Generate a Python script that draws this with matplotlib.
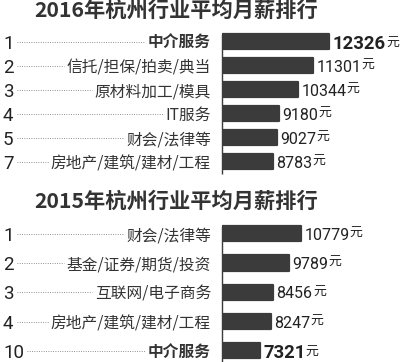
import matplotlib.pyplot as plt
from matplotlib.transforms import blended_transform_factory

plt.rcParams["font.family"] = ["Noto Sans CJK SC", "DejaVu Sans"]

DARK = "#3b3b3b"
TEXT = "#333333"
NUMFONT = ["Roboto", "Noto Sans CJK SC"]

# 2016 ranking
ranks_2016 = ["1", "2", "3", "4", "5", "7"]
labels_2016 = ["中介服务", "信托/担保/拍卖/典当", "原材料加工/模具", "IT服务", "财会/法律等", "房地产/建筑/建材/工程"]
salary_2016 = [12326, 11301, 10344, 9180, 9027, 8783]

# 2015 ranking
ranks_2015 = ["1", "2", "3", "4", "10"]
labels_2015 = ["财会/法律等", "基金/证券/期货/投资", "互联网/电子商务", "房地产/建筑/建材/工程", "中介服务"]
salary_2015 = [10779, 9789, 8456, 8247, 7321]

HIGHLIGHT = "中介服务"

W, H = 400, 362
fig = plt.figure(figsize=(W / 100, H / 100), dpi=100)
fig.patch.set_facecolor("white")


def px(x):
    return x / W


def py(y):
    return 1 - y / H


def section(title, title_base, ranks, labels, values, ax_top, ax_bottom, row_h, bar_h, xlim):
    fig.text(px(176), py(title_base), title, ha="center", va="baseline", fontsize=15.3,
             fontweight="bold", color=TEXT)
    ax = fig.add_axes([px(222), py(ax_bottom), px(W - 222), (ax_bottom - ax_top) / H])
    n_rows = (ax_bottom - ax_top) / row_h
    ax.set_ylim(n_rows - 0.5, -0.5)
    ax.set_xlim(*xlim)
    ax.axis("off")
    ys = list(range(len(values)))
    ax.barh(ys, values, height=bar_h, color=DARK, edgecolor=DARK, linewidth=1.6,
            joinstyle="round")
    ax.vlines(xlim[0], -0.5 + (1 - bar_h) / 2, n_rows - 0.5, color=DARK, lw=1.0, clip_on=False)

    tr = blended_transform_factory(fig.transFigure, ax.transData)
    fig.canvas.draw()
    renderer = fig.canvas.get_renderer()
    inv = fig.transFigure.inverted()
    for y, rank, lab, val in zip(ys, ranks, labels, values):
        bold = lab == HIGHLIGHT
        r = ax.text(px(3), y, rank, transform=tr, ha="left", va="center_baseline", fontsize=13.5,
                    color="#222222", family=NUMFONT)
        t = ax.text(px(211), y, lab, transform=tr, ha="right", va="center_baseline", fontsize=11.3,
                    fontweight="bold" if bold else "normal", color=TEXT)
        rb = inv.transform(r.get_window_extent(renderer))
        tb = inv.transform(t.get_window_extent(renderer))
        ax.plot([rb[1][0] + px(3), tb[0][0] - px(3)], [y, y], transform=tr, color="#777777",
                lw=0.7, ls=(0, (0.8, 1.6)), clip_on=False)
        v = ax.annotate(f"{val}", xy=(val, y), xytext=(2.5, 0), textcoords="offset points",
                        ha="left", va="center_baseline", fontsize=13.3 if bold else 11.5,
                        fontweight="bold" if bold else "normal", color="#222222",
                        family=NUMFONT, annotation_clip=False)
        ax.annotate("元", xy=(1, 0.18), xycoords=v, xytext=(0.2, 0), textcoords="offset points",
                    ha="left", va="bottom", fontsize=9.3, color="#222222")


section("2016年杭州行业平均月薪排行", 17, ranks_2016, labels_2016, salary_2016,
        29.7, 173.7, 24, 0.64, (5596, 16756))
section("2015年杭州行业平均月薪排行", 208, ranks_2015, labels_2015, salary_2015,
        219, 362, 29.3, 0.52, (4158, 19116))

fig.savefig("out.png", dpi=100)
